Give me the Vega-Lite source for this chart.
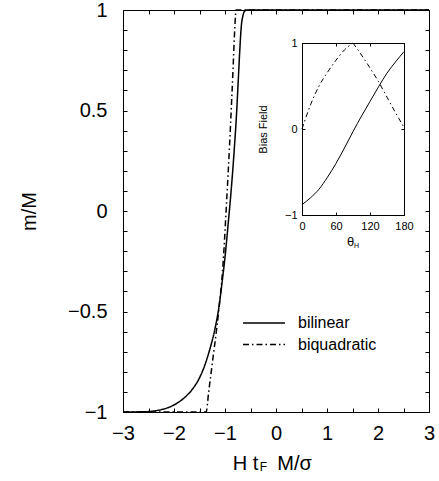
{
  "$schema": "https://vega.github.io/schema/vega-lite/v6.json",
  "width": 306,
  "height": 402,
  "autosize": "none",
  "padding": {"left": 123, "top": 10, "right": 10, "bottom": 69},
  "background": "white",
  "config": {
    "view": {"stroke": null},
    "font": "Liberation Sans",
    "axis": {
      "labelFont": "Liberation Sans",
      "titleFont": "Liberation Sans",
      "titleFontWeight": "normal",
      "labelColor": "black",
      "titleColor": "black",
      "domainColor": "black",
      "tickColor": "black",
      "grid": false,
      "labelFlush": false,
      "labelOverlap": false
    },
    "legend": {"labelFont": "Liberation Sans"}
  },
  "datasets": {
    "main": [
      {"x": -3, "m": -1, "s": "bilinear"},
      {"x": -2.6, "m": -0.999, "s": "bilinear"},
      {"x": -2.4, "m": -0.995, "s": "bilinear"},
      {"x": -2.2, "m": -0.985, "s": "bilinear"},
      {"x": -2.0, "m": -0.965, "s": "bilinear"},
      {"x": -1.8, "m": -0.93, "s": "bilinear"},
      {"x": -1.65, "m": -0.89, "s": "bilinear"},
      {"x": -1.5, "m": -0.83, "s": "bilinear"},
      {"x": -1.4, "m": -0.77, "s": "bilinear"},
      {"x": -1.3, "m": -0.69, "s": "bilinear"},
      {"x": -1.2, "m": -0.59, "s": "bilinear"},
      {"x": -1.12, "m": -0.48, "s": "bilinear"},
      {"x": -1.05, "m": -0.34, "s": "bilinear"},
      {"x": -1.0, "m": -0.23, "s": "bilinear"},
      {"x": -0.94, "m": -0.07, "s": "bilinear"},
      {"x": -0.88, "m": 0.1, "s": "bilinear"},
      {"x": -0.82, "m": 0.3, "s": "bilinear"},
      {"x": -0.77, "m": 0.5, "s": "bilinear"},
      {"x": -0.74, "m": 0.65, "s": "bilinear"},
      {"x": -0.71, "m": 0.8, "s": "bilinear"},
      {"x": -0.68, "m": 0.92, "s": "bilinear"},
      {"x": -0.65, "m": 0.97, "s": "bilinear"},
      {"x": -0.61, "m": 0.995, "s": "bilinear"},
      {"x": -0.56, "m": 1, "s": "bilinear"},
      {"x": 3, "m": 1, "s": "bilinear"},
      {"x": -3, "m": -1, "s": "biquadratic"},
      {"x": -1.37, "m": -1, "s": "biquadratic"},
      {"x": -1.32, "m": -0.9, "s": "biquadratic"},
      {"x": -1.24, "m": -0.74, "s": "biquadratic"},
      {"x": -1.125, "m": -0.5, "s": "biquadratic"},
      {"x": -1.04, "m": -0.27, "s": "biquadratic"},
      {"x": -0.97, "m": 0.04, "s": "biquadratic"},
      {"x": -0.91, "m": 0.33, "s": "biquadratic"},
      {"x": -0.875, "m": 0.52, "s": "biquadratic"},
      {"x": -0.84, "m": 0.72, "s": "biquadratic"},
      {"x": -0.81, "m": 0.9, "s": "biquadratic"},
      {"x": -0.795, "m": 0.97, "s": "biquadratic"},
      {"x": -0.785, "m": 1, "s": "biquadratic"},
      {"x": 3, "m": 1, "s": "biquadratic"}
    ],
    "inset": [
      {"t": 0, "b": -0.88, "s": "bilinear"},
      {"t": 15, "b": -0.8, "s": "bilinear"},
      {"t": 30, "b": -0.7, "s": "bilinear"},
      {"t": 45, "b": -0.56, "s": "bilinear"},
      {"t": 60, "b": -0.4, "s": "bilinear"},
      {"t": 75, "b": -0.22, "s": "bilinear"},
      {"t": 90, "b": -0.03, "s": "bilinear"},
      {"t": 105, "b": 0.15, "s": "bilinear"},
      {"t": 120, "b": 0.32, "s": "bilinear"},
      {"t": 135, "b": 0.49, "s": "bilinear"},
      {"t": 150, "b": 0.65, "s": "bilinear"},
      {"t": 165, "b": 0.78, "s": "bilinear"},
      {"t": 180, "b": 0.9, "s": "bilinear"},
      {"t": 0, "b": 0.0, "s": "biquadratic"},
      {"t": 15, "b": 0.28, "s": "biquadratic"},
      {"t": 30, "b": 0.5, "s": "biquadratic"},
      {"t": 45, "b": 0.66, "s": "biquadratic"},
      {"t": 60, "b": 0.8, "s": "biquadratic"},
      {"t": 75, "b": 0.92, "s": "biquadratic"},
      {"t": 90, "b": 1.0, "s": "biquadratic"},
      {"t": 105, "b": 0.86, "s": "biquadratic"},
      {"t": 120, "b": 0.71, "s": "biquadratic"},
      {"t": 135, "b": 0.55, "s": "biquadratic"},
      {"t": 150, "b": 0.37, "s": "biquadratic"},
      {"t": 165, "b": 0.19, "s": "biquadratic"},
      {"t": 180, "b": 0.02, "s": "biquadratic"}
    ]
  },
  "resolve": {"scale": {"x": "independent", "y": "independent"}, "axis": {"x": "independent", "y": "independent"}},
  "layer": [
    {
      "data": {"name": "main"},
      "transform": [{"filter": "datum.s == 'bilinear'"}],
      "mark": {"type": "line", "color": "black", "strokeWidth": 1.5, "interpolate": "monotone"},
      "encoding": {
        "x": {"field": "x", "type": "quantitative",
          "scale": {"domain": [-3, 3], "nice": false, "zero": false},
          "axis": {"orient": "bottom", "title": "H t", "titleFontSize": 20, "titleX": 122, "titleY": 51, "titleBaseline": "middle", "titleAlign": "center",
            "values": [-3, -2.5, -2, -1.5, -1, -0.5, 0, 0.5, 1, 1.5, 2, 2.5, 3],
            "labelExpr": "datum.value % 1 == 0 ? format(datum.value, 'd') : ''",
            "labelOverlap": false, "tickSize": -4, "labelPadding": 15, "labelFontSize": 20}},
        "y": {"field": "m", "type": "quantitative",
          "scale": {"domain": [-1, 1], "nice": false, "zero": false},
          "axis": {"orient": "left", "title": "m/M", "titleFontSize": 20, "titleX": -94, "titleBaseline": "middle", "titleAngle": -90,
            "values": [-1, -0.9, -0.8, -0.7, -0.6, -0.5, -0.4, -0.3, -0.2, -0.1, 0, 0.1, 0.2, 0.3, 0.4, 0.5, 0.6, 0.7, 0.8, 0.9, 1],
            "labelExpr": "abs(datum.value * 2 - round(datum.value * 2)) < 0.001 ? format(datum.value, '') : ''",
            "labelOverlap": false, "tickSize": -4, "labelPadding": 20, "labelFontSize": 20}},
        "strokeDash": {"field": "s", "type": "nominal",
          "scale": {"domain": ["bilinear", "biquadratic"], "range": [[1, 0], [6, 3, 1.5, 3]]},
          "legend": {"orient": "none", "legendX": 119, "legendY": 303, "title": null, "symbolType": "stroke",
            "symbolSize": 1764, "symbolStrokeWidth": 1.5, "symbolStrokeColor": "black", "labelFontSize": 16, "labelOffset": 12,
            "clipHeight": 20, "rowPadding": 1.6}}
      }
    },
    {
      "data": {"name": "main"},
      "transform": [{"filter": "datum.s == 'biquadratic'"}],
      "mark": {"type": "line", "color": "black", "strokeWidth": 1.5, "interpolate": "monotone"},
      "encoding": {
        "x": {"field": "x", "type": "quantitative",
          "scale": {"domain": [-3, 3], "nice": false, "zero": false},
          "axis": {"orient": "top", "title": "F", "titleFontSize": 12, "titleX": 140, "titleY": 456, "titleBaseline": "middle", "titleAngle": 0, "titleAlign": "center",
            "values": [-3, -2.5, -2, -1.5, -1, -0.5, 0, 0.5, 1, 1.5, 2, 2.5, 3],
            "labels": false, "tickSize": -4}},
        "y": {"field": "m", "type": "quantitative",
          "scale": {"domain": [-1, 1], "nice": false, "zero": false},
          "axis": {"orient": "right", "title": "M/σ", "titleFontSize": 20, "titleX": -135, "titleY": 453, "titleBaseline": "middle", "titleAngle": 0, "titleAlign": "center",
            "values": [-1, -0.9, -0.8, -0.7, -0.6, -0.5, -0.4, -0.3, -0.2, -0.1, 0, 0.1, 0.2, 0.3, 0.4, 0.5, 0.6, 0.7, 0.8, 0.9, 1],
            "labels": false, "tickSize": -4}},
        "strokeDash": {"field": "s", "type": "nominal"}
      }
    },
    {
      "data": {"name": "inset"},
      "transform": [{"filter": "datum.s == 'bilinear'"}],
      "mark": {"type": "line", "color": "black", "strokeWidth": 1, "interpolate": "monotone"},
      "encoding": {
        "x": {"field": "t", "type": "quantitative",
          "scale": {"domain": [0, 180], "nice": false, "zero": false, "range": [179, 281]},
          "axis": {"orient": "bottom", "offset": -197, "title": "θ", "titleFontSize": 13, "titleX": 227, "titleY": 26, "titleBaseline": "middle",
            "values": [0], "labelExpr": "format(datum.value, 'd')", "labelOverlap": false, "labelFlush": false,
            "tickSize": -3, "labelPadding": 8, "labelFontSize": 11}},
        "y": {"field": "b", "type": "quantitative",
          "scale": {"domain": [-1, 1], "nice": false, "zero": false, "range": [205, 33]},
          "axis": {"orient": "left", "offset": -179, "title": "Bias Field", "titleFontSize": 11, "titleX": -39, "titleY": 119, "titleBaseline": "middle", "titleAngle": -90,
            "values": [-1, 0, 1], "labelExpr": "format(datum.value, 'd')", "labelOverlap": false, "labelSeparation": 0, "labelBound": false,
            "tickSize": -3, "labelPadding": 8, "labelFontSize": 11}}
      }
    },
    {
      "data": {"name": "inset"},
      "transform": [{"filter": "datum.s == 'biquadratic' && datum.t <= 90"}],
      "mark": {"type": "line", "color": "black", "strokeWidth": 1, "strokeDash": [5, 3, 1.5, 3], "interpolate": "monotone"},
      "encoding": {
        "x": {"field": "t", "type": "quantitative",
          "scale": {"domain": [0, 180], "nice": false, "zero": false, "range": [179, 281]},
          "axis": {"orient": "top", "offset": -33, "title": "H", "titleFontSize": 7, "titleX": 233, "titleY": 202, "titleBaseline": "middle", "titleAngle": 0,
            "values": [0, 60, 120, 180], "labels": false, "tickSize": -3}},
        "y": {"field": "b", "type": "quantitative",
          "scale": {"domain": [-1, 1], "nice": false, "zero": false, "range": [205, 33]},
          "axis": {"orient": "right", "offset": -25, "title": null,
            "values": [-1, 0, 1], "labels": false, "tickSize": -3}}
      }
    },
    {
      "data": {"name": "inset"},
      "transform": [{"filter": "datum.s == 'biquadratic' && datum.t >= 90"}],
      "mark": {"type": "line", "color": "black", "strokeWidth": 1, "strokeDash": [5, 3, 1.5, 3], "interpolate": "monotone"},
      "encoding": {
        "x": {"field": "t", "type": "quantitative",
          "scale": {"domain": [0, 180], "nice": false, "zero": false, "range": [179, 281]},
          "axis": {"orient": "bottom", "offset": -197, "title": null,
            "values": [60, 120, 180], "labelExpr": "datum.value == 60 ? '60' : format(datum.value, 'd')", "labelOverlap": false, "labelFlush": false,
            "tickSize": -3, "labelPadding": 8, "labelFontSize": 11}},
        "y": {"field": "b", "type": "quantitative",
          "scale": {"domain": [-1, 1], "nice": false, "zero": false, "range": [205, 33]},
          "axis": null}
      }
    }
  ]
}
